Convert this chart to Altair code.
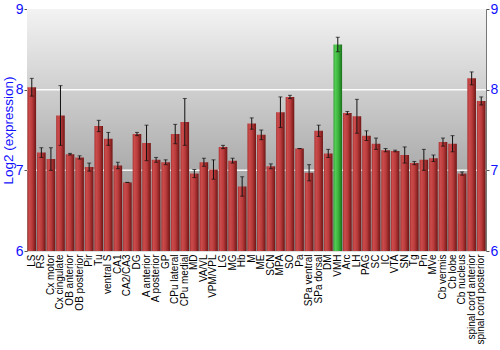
import altair as alt
import pandas as pd

regions = ["LS", "RS", "Cx motor", "Cx cingulate", "OB anterior", "OB posterior", "Pir", "Tu",
           "ventral S", "CA1", "CA2/CA3", "DG", "A anterior", "A posterior", "GP", "CPu lateral",
           "CPu medial", "MD", "VA/VL", "VPM/VPL", "LG", "MG", "Hb", "M", "ME", "SCN", "MPA", "SO",
           "Pa", "SPa ventral", "SPa dorsal", "DM", "VMH", "Arc", "LH", "PAG", "SC", "IC", "VTA",
           "SN", "Tg", "Pn", "MVe", "Cb vermis", "Cb lobe", "Cb nucleus", "spinal cord anterior",
           "spinal cord posterior"]
values = [8.03, 7.22, 7.14, 7.68, 7.20, 7.16, 7.04, 7.55,
          7.39, 7.06, 6.85, 7.45, 7.34, 7.13, 7.10, 7.45,
          7.60, 6.96, 7.10, 7.01, 7.29, 7.12, 6.80, 7.58, 7.44, 7.05, 7.72, 7.91,
          7.27, 6.97, 7.49, 7.21, 8.56, 7.71, 7.67, 7.43, 7.33, 7.25, 7.24,
          7.19, 7.09, 7.13, 7.15, 7.35, 7.33, 6.96, 8.14, 7.86]
errors = [0.11, 0.06, 0.14, 0.37, 0.01, 0.02, 0.05, 0.07,
          0.08, 0.04, 0.0, 0.02, 0.22, 0.03, 0.03, 0.12,
          0.29, 0.05, 0.05, 0.12, 0.02, 0.03, 0.12, 0.07, 0.06, 0.03, 0.19, 0.02,
          0.0, 0.10, 0.07, 0.05, 0.09, 0.02, 0.21, 0.06, 0.07, 0.02, 0.01,
          0.10, 0.02, 0.13, 0.04, 0.05, 0.10, 0.02, 0.08, 0.05]
highlight = "VMH"
grid_values = [7, 8]
tick_values = [6, 7, 8, 9]

df = pd.DataFrame({"region": regions, "value": values, "err": errors})
df["lo"] = df["value"] - df["err"]
df["hi"] = df["value"] + df["err"]
df["hl"] = df["region"] == highlight

W, H = 459, 242
FONT = "Liberation Sans"
BLUE = "#1010ff"

x_axis = alt.Axis(labelAngle=-90, labelAlign="right", labelBaseline="middle",
                  ticks=False, domain=False, labelPadding=3, labelFontSize=10,
                  labelColor="#000000", labelFont=FONT, labelLimit=200)
x_scale = alt.Scale(paddingInner=0.1, paddingOuter=0.05)
x_enc = alt.X("region:N", sort=regions, title=None, scale=x_scale, axis=x_axis)
yscale = alt.Scale(domain=[6, 9], zero=False, nice=False)

bg = alt.Chart(pd.DataFrame({"a": [0]})).mark_rect(
    color=alt.Gradient(gradient="linear", x1=0, y1=0, x2=0, y2=1,
                       stops=[alt.GradientStop(color="#f3f3f3", offset=0),
                              alt.GradientStop(color="#878787", offset=1)])
).encode(x=alt.value(0), x2=alt.value(W), y=alt.value(0), y2=alt.value(H))

grid = alt.Chart(pd.DataFrame({"g": grid_values})).mark_rule(
    color="#ffffff", strokeWidth=1.5, opacity=0.9
).encode(y=alt.Y("g:Q", scale=yscale, axis=None), x=alt.value(0), x2=alt.value(W))

red_grad = alt.Gradient(gradient="linear", x1=0, y1=0, x2=1, y2=0,
                        stops=[alt.GradientStop(color="#a83030", offset=0),
                               alt.GradientStop(color="#cc4c4c", offset=0.2),
                               alt.GradientStop(color="#b83a3a", offset=0.55),
                               alt.GradientStop(color="#701515", offset=1)])
green_grad = alt.Gradient(gradient="linear", x1=0, y1=0, x2=1, y2=0,
                          stops=[alt.GradientStop(color="#30a030", offset=0),
                                 alt.GradientStop(color="#55cc55", offset=0.2),
                                 alt.GradientStop(color="#3cb43c", offset=0.55),
                                 alt.GradientStop(color="#1a701a", offset=1)])

base = alt.Chart(df)
bars_red = base.transform_filter("!datum.hl").mark_bar(color=red_grad).encode(
    x=x_enc,
    y=alt.Y("value:Q", scale=yscale, title="Log2 (expression)",
            axis=alt.Axis(orient="left", values=tick_values, format="d", grid=False,
                          labelColor=BLUE, titleColor=BLUE,
                          labelFontSize=14, titleFontSize=13.5, titleFontWeight="normal",
                          labelFont=FONT, titleFont=FONT, domainColor="#777777",
                          tickColor="#555555", tickSize=3, labelPadding=1, titlePadding=0)),
    y2=alt.datum(6))
bars_green = base.transform_filter("datum.hl").mark_bar(color=green_grad).encode(
    x=x_enc, y=alt.Y("value:Q", scale=yscale, axis=None), y2=alt.datum(6))

err_rule = base.mark_rule(color="#111111", strokeWidth=1).encode(
    x=x_enc, y=alt.Y("lo:Q", scale=yscale, axis=None), y2="hi:Q")
cap_hi = base.mark_tick(color="#111111", orient="horizontal", size=4, thickness=1).encode(
    x=x_enc, y=alt.Y("hi:Q", scale=yscale, axis=None))
cap_lo = base.mark_tick(color="#111111", orient="horizontal", size=4, thickness=1).encode(
    x=x_enc, y=alt.Y("lo:Q", scale=yscale, axis=None))

right_axis = alt.Chart(pd.DataFrame({"v": [6, 9]})).mark_point(opacity=0).encode(
    y=alt.Y("v:Q", scale=yscale, title=None,
            axis=alt.Axis(orient="right", values=tick_values, format="d", grid=False,
                          labelColor=BLUE, labelFontSize=14, labelFont=FONT,
                          domainColor="#777777", tickColor="#555555", tickSize=3,
                          labelPadding=1)))

chart = alt.layer(bg, grid, bars_red, bars_green, err_rule, cap_hi, cap_lo, right_axis).resolve_axis(
    y="independent").properties(
    width=W, height=H,
    autosize=alt.AutoSizeParams(type="none"),
    padding={"left": 27, "top": 9, "right": 14, "bottom": 99}
).configure_view(stroke="#777777", strokeWidth=1).configure(background="white")

chart.save("out.html", embed_options={"renderer": "svg", "actions": False})
